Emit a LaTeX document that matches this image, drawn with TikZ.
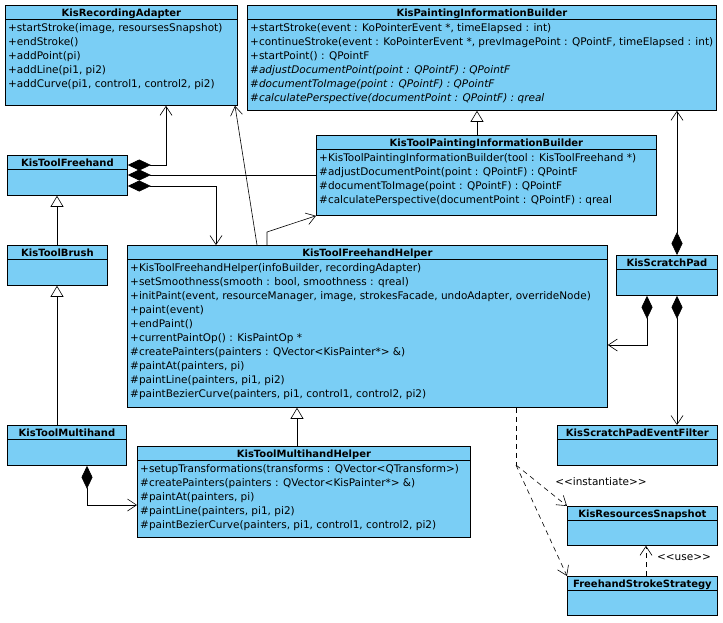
\documentclass[tikz,border=0pt]{standalone}
\usepackage{fontspec}
\setmainfont{DejaVu Sans}
\usetikzlibrary{arrows.meta}

\definecolor{classblue}{RGB}{122,206,245}

\tikzset{
  classbox/.style={draw, fill=classblue, line width=0.8pt, inner sep=0pt, anchor=north west},
  classtitle/.style={anchor=base, inner sep=0pt, font=\fontsize{10}{14}\selectfont\bfseries},
  classbody/.style={anchor=north west, align=left, inner sep=0pt, font=\fontsize{10.5}{14}\selectfont},
  stereo/.style={inner sep=0pt, font=\fontsize{10.5}{14}\selectfont},
  link/.style={line width=0.6pt},
  comp/.style={link, {Diamond[length=23pt,width=11pt]}-{Straight Barb[length=9pt,width=12pt]}},
  part/.style={link, {Diamond[length=23pt,width=11pt]}-},
  assoc/.style={link, -{Straight Barb[length=9pt,width=12pt]}},
  gen/.style={link, -{Triangle[open, fill=white, length=11pt, width=13pt]}},
  dep/.style={link, dash pattern=on 5pt off 4pt, -{Straight Barb[length=9pt,width=12pt]}}
}

% name, x, y, width, height, title, members
\newcommand{\umlclass}[7]{%
  \node[classbox, minimum width=#4pt, minimum height=#5pt] (#1) at (#2,#3) {};
  \draw[line width=0.8pt] ([yshift=-14.5pt]#1.north west) -- ([yshift=-14.5pt]#1.north east);
  \node[classtitle] (#1-title) at ([yshift=-11.5pt]#1.north) {#6};
  \if\relax\detokenize{#7}\relax\else
    \node[classbody] (#1-body) at ([xshift=3pt,yshift=-18.5pt]#1.north west) {#7};
  \fi
}

\begin{document}
\begin{tikzpicture}[x=1pt, y=-1pt]
  \useasboundingbox (0,0) rectangle (723,622);

  \umlclass{rec}{5}{5}{232}{100}{KisRecordingAdapter}{%
    +startStroke(image, resoursesSnapshot)\\
    +endStroke()\\
    +addPoint(pi)\\
    +addLine(pi1, pi2)\\
    +addCurve(pi1, control1, control2, pi2)}

  \umlclass{pib}{247}{5}{469}{105}{KisPaintingInformationBuilder}{%
    +startStroke(event : KoPointerEvent *, timeElapsed : int)\\
    +continueStroke(event : KoPointerEvent *, prevImagePoint : QPointF, timeElapsed : int)\\
    +startPoint() : QPointF\\
    \textit{\#adjustDocumentPoint(point : QPointF) : QPointF}\\
    \textit{\#documentToImage(point : QPointF) : QPointF}\\
    \textit{\#calculatePerspective(documentPoint : QPointF) : qreal}}

  \umlclass{tpib}{316}{135}{340}{80}{KisToolPaintingInformationBuilder}{%
    +KisToolPaintingInformationBuilder(tool : KisToolFreehand *)\\
    \#adjustDocumentPoint(point : QPointF) : QPointF\\
    \#documentToImage(point : QPointF) : QPointF\\
    \#calculatePerspective(documentPoint : QPointF) : qreal}

  \umlclass{free}{7}{155}{120}{40}{KisToolFreehand}{}
  \umlclass{brush}{7}{245}{100}{40}{KisToolBrush}{}
  \umlclass{mh}{7}{425}{119}{40}{KisToolMultihand}{}

  \umlclass{fhh}{127}{245}{480}{162}{KisToolFreehandHelper}{%
    +KisToolFreehandHelper(infoBuilder, recordingAdapter)\\
    +setSmoothness(smooth : bool, smoothness : qreal)\\
    +initPaint(event, resourceManager, image, strokesFacade, undoAdapter, overrideNode)\\
    +paint(event)\\
    +endPaint()\\
    +currentPaintOp() : KisPaintOp *\\
    \#createPainters(painters : QVector<KisPainter*> \&)\\
    \#paintAt(painters, pi)\\
    \#paintLine(painters, pi1, pi2)\\
    \#paintBezierCurve(painters, pi1, control1, control2, pi2)}

  \umlclass{mhh}{137}{446}{333}{91}{KisToolMultihandHelper}{%
    +setupTransformations(transforms : QVector<QTransform>)\\
    \#createPainters(painters : QVector<KisPainter*> \&)\\
    \#paintAt(painters, pi)\\
    \#paintLine(painters, pi1, pi2)\\
    \#paintBezierCurve(painters, pi1, control1, control2, pi2)}

  \umlclass{sp}{616}{255}{101}{40}{KisScratchPad}{}
  \umlclass{spef}{557}{425}{160}{40}{KisScratchPadEventFilter}{}
  \umlclass{rs}{567}{506}{150}{39}{KisResourcesSnapshot}{}
  \umlclass{fhs}{567}{576}{150}{39}{FreehandStrokeStrategy}{}

  % KisToolFreehand owns
  \draw[comp] (free.east |- 0,165) -| (166,0 |- rec.south);
  \draw[part] (free.east |- 0,175) -- (tpib.west |- 0,175);
  \draw[comp] (free.east |- 0,186) -| (216,0 |- fhh.north);

  \draw[assoc] (257,0 |- fhh.north) -- (235,0 |- rec.south);
  \draw[assoc] (267,0 |- fhh.north) -- (267,232) -- (tpib.south west);

  % inheritance
  \draw[gen] (477,0 |- tpib.north) -- (477,0 |- pib.south);
  \draw[gen] (57,0 |- brush.north) -- (57,0 |- free.south);
  \draw[gen] (57,0 |- mh.north) -- (57,0 |- brush.south);
  \draw[gen] (297,0 |- mhh.north) -- (297,0 |- fhh.south);

  \draw[comp] (87,0 |- mh.south) |- (mhh.west |- 0,505);

  % scratch pad
  \draw[comp] (677,0 |- sp.north) -- (677,0 |- pib.south);
  \draw[comp] (647,0 |- sp.south) |- (fhh.east |- 0,345);
  \draw[comp] (677,0 |- sp.south) -- (677,0 |- spef.north);

  % dependencies
  \coordinate (split) at (516,465);
  \draw[link, dash pattern=on 5pt off 4pt] (516,0 |- fhh.south) -- (split);
  \draw[dep] (split) -- (rs.north west);
  \draw[dep] (split) -- (fhs.north west);
  \node[stereo] (inst) at (601,482) {<{}<instantiate>{}>};
  \draw[dep] (646,0 |- fhs.north) -- (646,0 |- rs.south);
  \node[stereo] (use) at (684,558) {<{}<use>{}>};
\end{tikzpicture}
\end{document}
